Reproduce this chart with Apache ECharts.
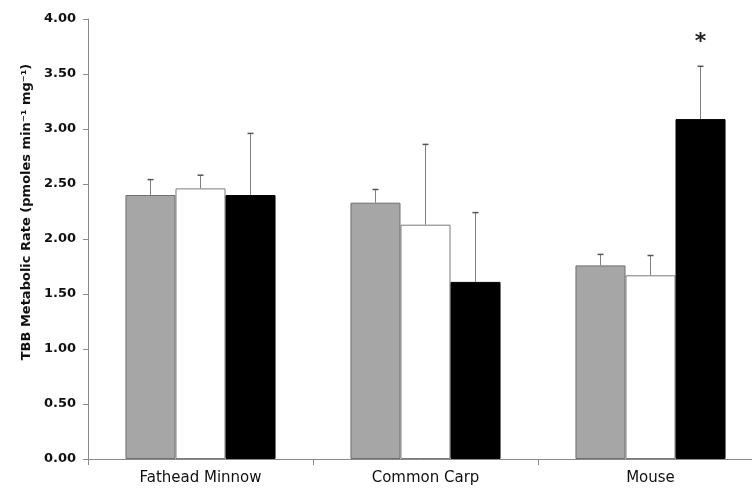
<!DOCTYPE html>
<html>
<head>
<meta charset="utf-8">
<script src="https://cdn.jsdelivr.net/npm/echarts@6/dist/echarts.min.js"></script>
<style>html,body{margin:0;padding:0;background:#fff}#c{width:752px;height:494px}</style>
</head>
<body>
<div id="c"></div>
<script>
const categories = ['Fathead Minnow', 'Common Carp', 'Mouse'];
const seriesNames = ['Group A', 'Group B', 'Group C'];
const meanA = [2.40, 2.33, 1.76];
const meanB = [2.46, 2.13, 1.67];
const meanC = [2.40, 1.61, 3.09];
const seA = [0.14, 0.12, 0.10];
const seB = [0.12, 0.73, 0.18];
const seC = [0.56, 0.63, 0.48];
const sigA = [false, false, false];
const sigB = [false, false, false];
const sigC = [false, false, true];
const yTicks = ['0.00','0.50','1.00','1.50','2.00','2.50','3.00','3.50','4.00'];

const means = [meanA, meanB, meanC];
const ses = [seA, seB, seC];
const sigs = [sigA, sigB, sigC];
const fills = ['#a6a6a6', '#ffffff', '#000000'];
const borders = ['#6f6f6f', '#7a7a7a', '#000000'];
const catGap = 1/3;

const chart = echarts.init(document.getElementById('c'), null, {renderer: 'canvas'});

const series = [];
means.forEach((m, k) => {
  series.push({
    name: seriesNames[k],
    type: 'bar',
    data: m,
    barGap: '0%',
    barCategoryGap: '33.3%',
    itemStyle: {color: fills[k], borderColor: borders[k], borderWidth: 1},
    silent: true,
    z: 2
  });
});
means.forEach((m, k) => {
  series.push({
    type: 'custom',
    name: seriesNames[k] + ' SE',
    silent: true,
    z: 3,
    encode: {x: 0, y: 1},
    data: m.map((v, i) => [i, v, v + ses[k][i], sigs[k][i] ? 1 : 0]),
    renderItem: function (params, api) {
      const cat = api.value(0);
      const base = api.coord([cat, api.value(1)]);
      const top = api.coord([cat, api.value(2)]);
      const band = api.size([1, 0])[0];
      const bw = band * (1 - catGap) / 3;
      const x = base[0] + (k - 1) * bw;
      const children = [
        {type: 'line', shape: {x1: x, y1: base[1], x2: x, y2: top[1]}, style: {stroke: '#7f7f7f', lineWidth: 1}},
        {type: 'line', shape: {x1: x - 3, y1: top[1], x2: x + 3, y2: top[1]}, style: {stroke: '#555', lineWidth: 1.5}}
      ];
      if (api.value(3) === 1) {
        children.push({type: 'text', style: {text: '*', x: x, y: top[1] - 24, align: 'center', verticalAlign: 'middle', fontSize: 22, fontFamily: 'DejaVu Sans', fontWeight: 'bold', fill: '#222'}});
      }
      return {type: 'group', children: children};
    }
  });
});

chart.setOption({
  animation: false,
  backgroundColor: '#fff',
  grid: {left: 88, top: 19, width: 675, height: 440, containLabel: false, outerBoundsMode: 'none'},
  xAxis: {
    type: 'category',
    data: categories,
    axisLine: {lineStyle: {color: '#8a8a8a', width: 1}},
    axisTick: {show: true, length: 6, lineStyle: {color: '#8a8a8a'}},
    axisLabel: {fontFamily: 'DejaVu Sans', fontSize: 15, color: '#111', margin: 12}
  },
  yAxis: {
    type: 'value',
    min: 0, max: 4, interval: 0.5,
    name: 'TBB Metabolic Rate (pmoles min\u207B\u00B9 mg\u207B\u00B9)',
    nameLocation: 'middle',
    nameGap: 54,
    nameRotate: 90,
    nameTextStyle: {fontFamily: 'DejaVu Sans', fontWeight: 'bold', fontSize: 13, color: '#111', padding: [0, 0, 0, 54]},
    splitLine: {show: false},
    axisLine: {show: true, lineStyle: {color: '#8a8a8a', width: 1}},
    axisTick: {show: true, length: 5, lineStyle: {color: '#8a8a8a'}},
    axisLabel: {
      fontFamily: 'DejaVu Sans', fontWeight: 'bold', fontSize: 13, color: '#111', margin: 12,
      formatter: function (v) { return yTicks[Math.round(v / 0.5)]; }
    }
  },
  series: series
});
</script>
</body>
</html>
